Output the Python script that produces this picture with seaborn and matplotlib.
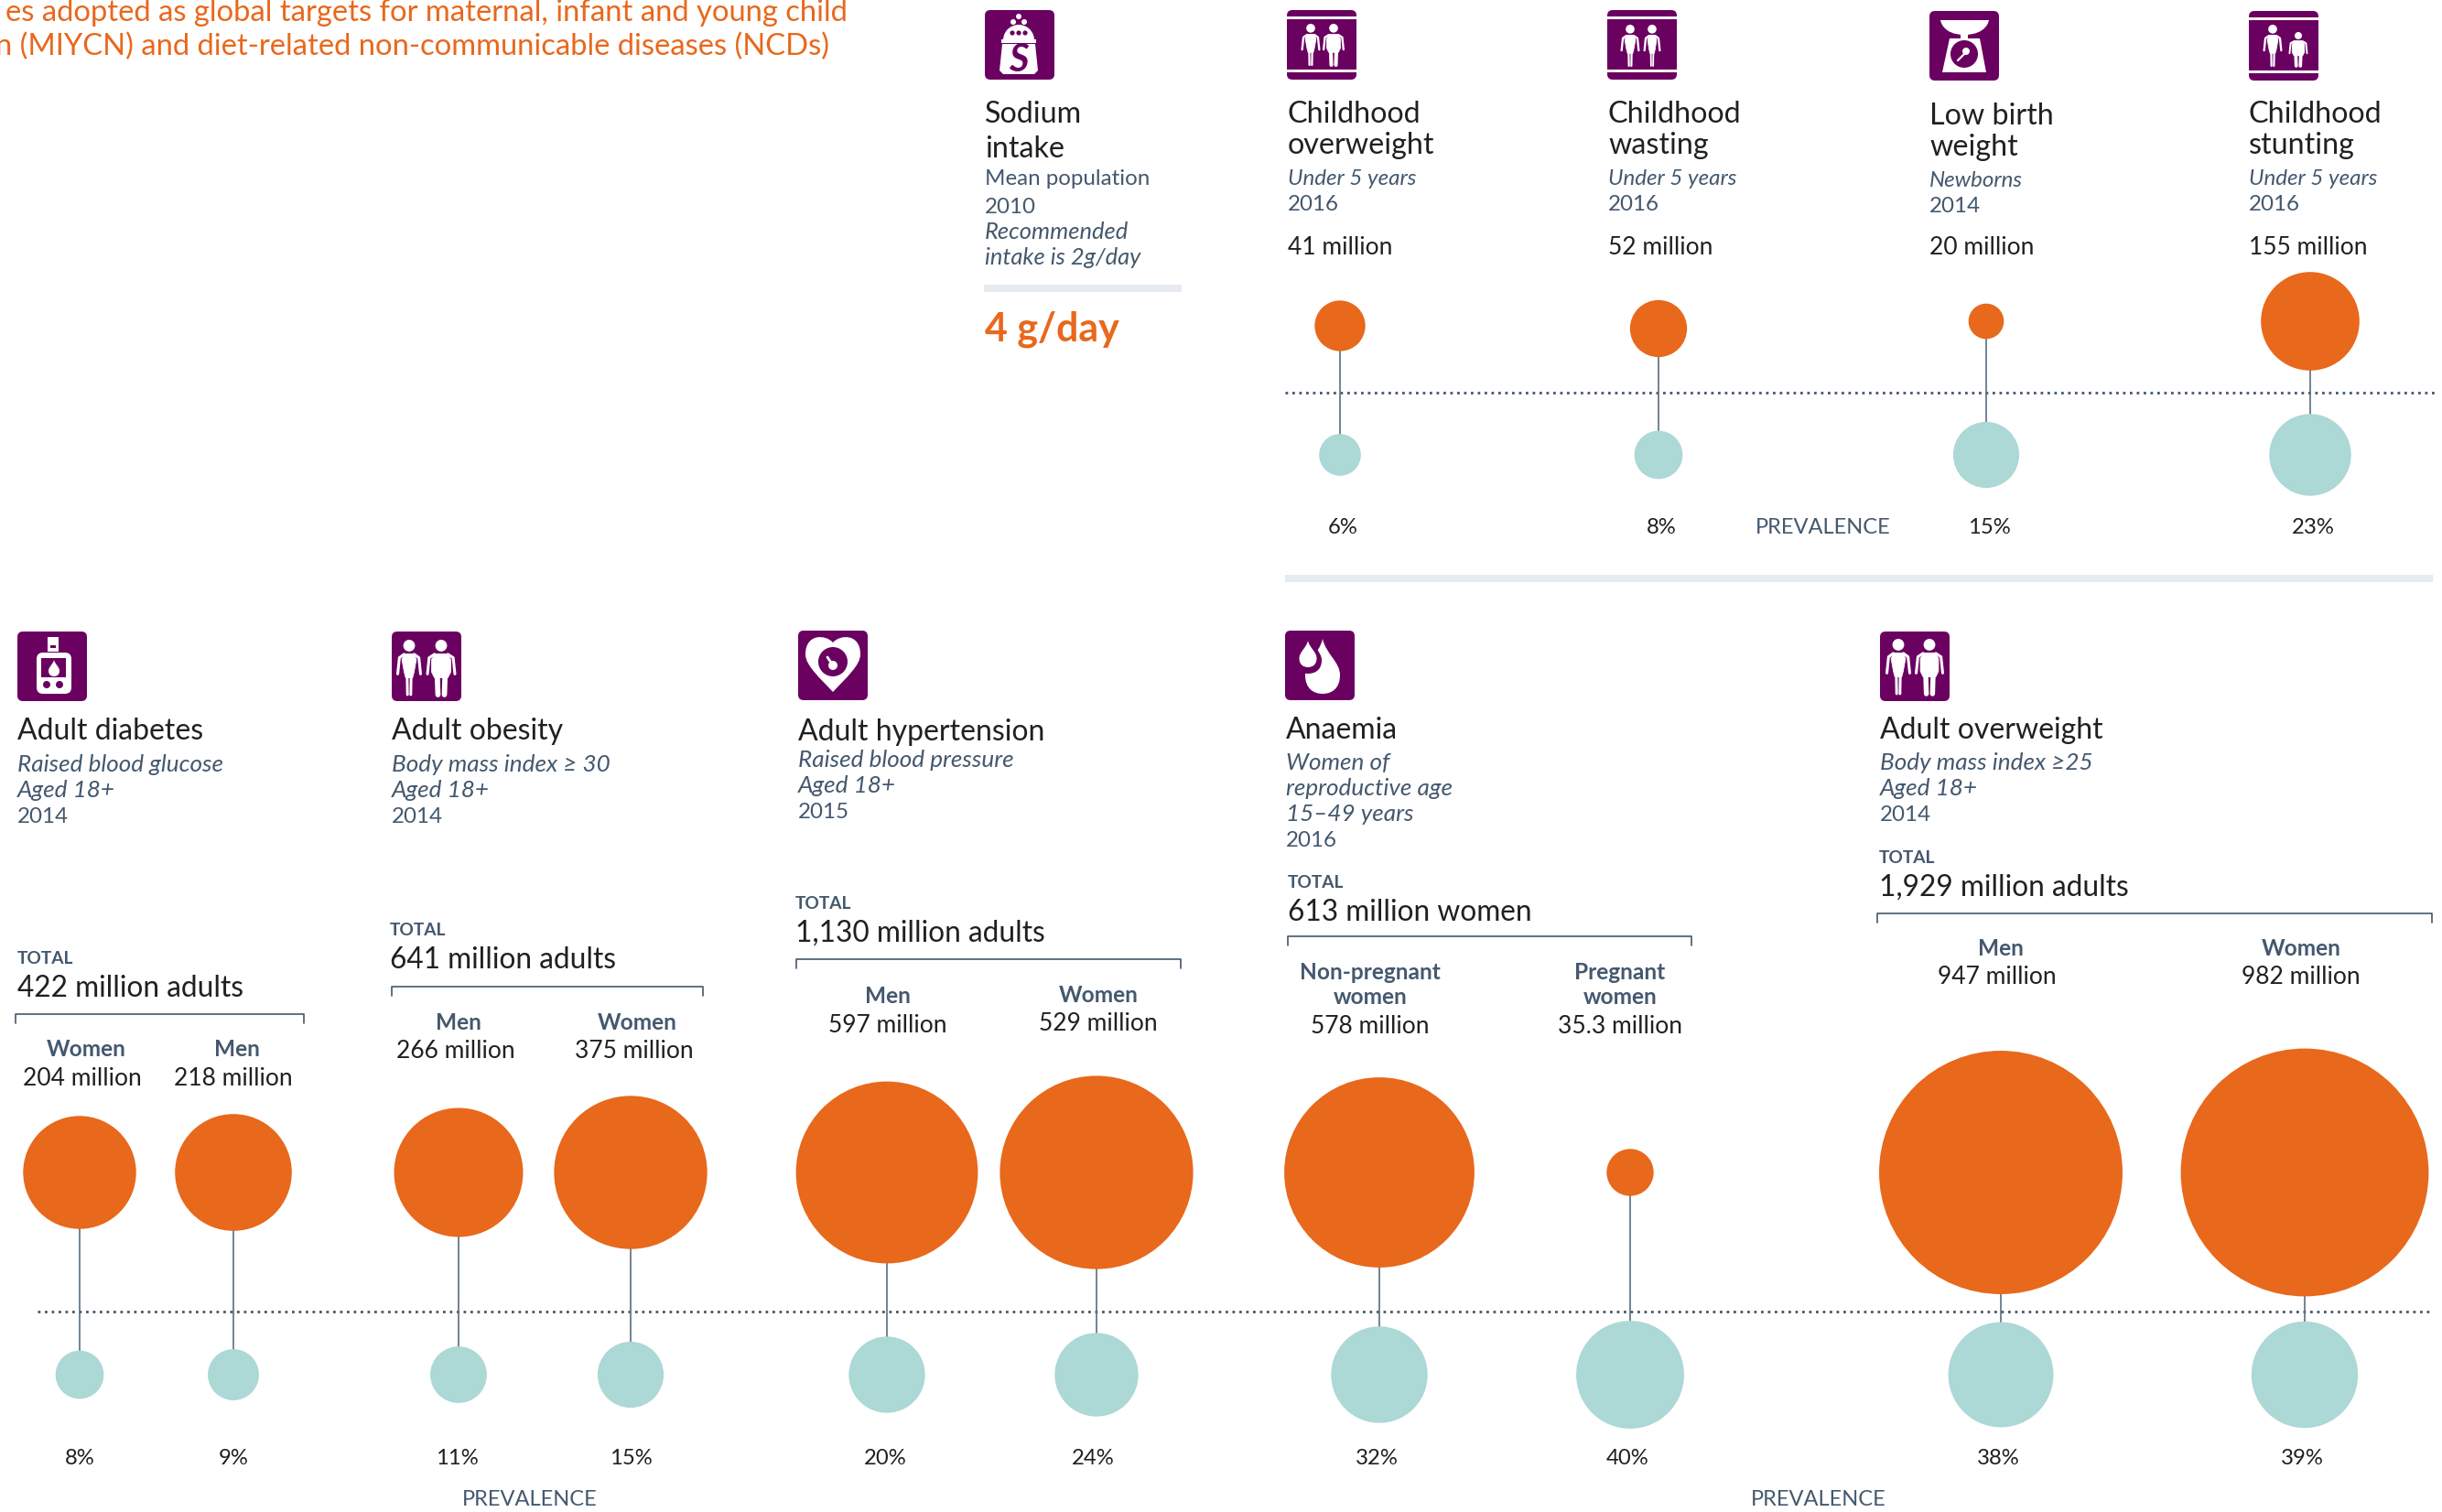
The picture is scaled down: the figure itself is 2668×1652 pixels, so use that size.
import matplotlib
matplotlib.use("Agg")
import matplotlib.pyplot as plt
import numpy as np
import pandas as pd
import seaborn as sns
from matplotlib.patches import FancyBboxPatch, Circle, Polygon, PathPatch, Wedge, Rectangle
from matplotlib.path import Path

sns.set_theme(style="white")
plt.rcParams["font.family"] = ["Lato", "DejaVu Sans"]

ORANGE = "#E8681C"
TEAL = "#ACD8D6"
PURPLE = "#6A0060"
DARK = "#231F20"
SLATE = "#44586E"
PALE = "#E6EAF1"

# top row
top_names = [["Childhood", "overweight"], ["Childhood", "wasting"], ["Low birth", "weight"], ["Childhood", "stunting"]]
top_groups = ["Under 5 years", "Under 5 years", "Newborns", "Under 5 years"]
top_years = ["2016", "2016", "2014", "2016"]
top_millions = [41, 52, 20, 155]
top_prevalence = [6, 8, 15, 23]

# bottom row, one entry per circle pair
bottom_millions = [204, 218, 266, 375, 529, 597, 578, 35.3, 947, 982]
bottom_prevalence = [8, 9, 11, 15, 20, 24, 32, 40, 38, 39]
bottom_groups = [["Women"], ["Men"], ["Men"], ["Women"], ["Men"], ["Women"],
                 ["Non-pregnant", "women"], ["Pregnant", "women"], ["Men"], ["Women"]]
bottom_million_labels = ["204 million", "218 million", "266 million", "375 million", "597 million",
                         "529 million", "578 million", "35.3 million", "947 million", "982 million"]

bottom_titles = ["Adult diabetes", "Adult obesity", "Adult hypertension", "Anaemia", "Adult overweight"]
bottom_notes = [["Raised blood glucose", "Aged 18+"], ["Body mass index ≥ 30", "Aged 18+"], ["Raised blood pressure", "Aged 18+"],
                ["Women of", "reproductive age", "15–49 years"], ["Body mass index ≥25", "Aged 18+"]]
bottom_years = ["2014", "2014", "2015", "2016", "2014"]
bottom_totals = ["422 million adults", "641 million adults", "1,130 million adults", "613 million women", "1,929 million adults"]

# layout, in pixels of the final picture
top_x = [1464, 1812, 2170, 2524]
top_cy = [356, 359, 351, 351]
top_text_x = [1407, 1757, 2108, 2457]
bottom_x = [87, 255, 501, 689, 969, 1198, 1507, 1781, 2186, 2518]
bottom_cy = 1281
bottom_prev_cy = 1502
top_prev_cy = 497

panel_x = [19, 428, 872, 1405, 2054]
title_y = [808, 808, 809, 807, 807]
note_y = [[843, 871, 899], [843, 871, 899], [838, 866, 894], [841, 869, 897, 925], [841, 869, 897]]
total_x = [19, 426, 869, 1407, 2053]
total_y = [1053, 1022, 993, 970, 943]
bracket = [(17, 332, 1108), (428, 768, 1078), (870, 1290, 1048), (1407, 1848, 1023), (2051, 2657, 998)]

group_x = [94, 259, 501, 696, 970, 1200, 1497, 1770, 2186, 2514]
value_x = [90, 255, 498, 693, 970, 1200, 1497, 1770, 2182, 2514]
group_y = [1154, 1154, 1125, 1125, 1096, 1095, 1070, 1070, 1044, 1044]
value_y = [1186, 1186, 1156, 1156, 1128, 1126, 1129, 1129, 1075, 1075]
prev_x = [87, 255, 499, 689, 967, 1194, 1504, 1778, 2183, 2515]


def T(x, y, s, size=8.7, color=DARK, weight="normal", style="normal", ha="left"):
    ax.text(x, y, s, fontsize=size, color=color, fontweight=weight, fontstyle=style, ha=ha, va="baseline")


def person(cx, top, h, reach, fat=False):
    # white figure inside an icon, sizes in pixels, reach is the width over the arms
    r = 0.105 * h
    ax.add_patch(Circle((cx, top + r), r, color="white", lw=0, zorder=5))
    st = top + 2.4 * r
    crotch = top + 0.58 * h
    bot = top + h
    lw = 0.05 * h
    sw = reach / 2 - 2.0 * lw
    hw = sw * (1.0 if fat else 0.68)
    ax.add_patch(Polygon([(cx - sw * 0.6, st), (cx + sw * 0.6, st), (cx + sw, st + 0.1 * h), (cx + hw, crotch),
                          (cx + hw * 0.7, crotch + 0.1 * h), (cx - hw * 0.7, crotch + 0.1 * h), (cx - hw, crotch), (cx - sw, st + 0.1 * h)],
                         fc="white", ec="white", lw=0.3, joinstyle="round", zorder=5))
    for side in (-1, 1):
        ax.plot([cx + side * sw * 0.7, cx + side * (reach / 2 - lw * 1.1), cx + side * (reach / 2 - lw * 0.5)],
                [st + 0.5, st + 0.07 * h, st + 0.36 * h],
                color="white", lw=lw * 0.36, solid_capstyle="round", solid_joinstyle="round", zorder=5)
        ax.plot([cx + side * hw * 0.42, cx + side * hw * 0.34], [crotch, bot - 1],
                color="white", lw=hw * 0.55 * 0.36, solid_capstyle="round", zorder=5)


def drop(cx, top, w, h, color="white", z=5):
    bot = top + h
    verts = [(cx, top), (cx + w * 0.1, top + h * 0.28), (cx + w / 2, top + h * 0.42), (cx + w / 2, top + h * 0.66),
             (cx + w / 2, top + h * 0.9), (cx + w * 0.27, bot), (cx, bot),
             (cx - w * 0.27, bot), (cx - w / 2, top + h * 0.9), (cx - w / 2, top + h * 0.66),
             (cx - w / 2, top + h * 0.42), (cx - w * 0.1, top + h * 0.28), (cx, top)]
    codes = [Path.MOVETO] + [Path.CURVE4] * 12
    ax.add_patch(PathPatch(Path(verts, codes), fc=color, ec="none", zorder=z))


def icon_base(x, y, w=76, h=76, bands=False):
    ax.add_patch(FancyBboxPatch((x + 5, y + 5), w - 10, h - 10, boxstyle="round,pad=5,rounding_size=6",
                                fc=PURPLE, ec="none", zorder=4))
    if bands:
        ax.add_patch(Rectangle((x, y + 7), w, 2.5, fc="white", ec="none", zorder=5))
        ax.add_patch(Rectangle((x, y + h - 11), w, 2.5, fc="white", ec="none", zorder=5))


def icon_salt(x, y):
    icon_base(x, y)
    for dx, dy, r in [(0, 7, 3), (-6, 13, 3), (6, 13, 3)]:
        ax.add_patch(Circle((x + 37 + dx, y + dy), r, color="white", lw=0, zorder=5))
    ax.add_patch(Wedge((x + 37, y + 33), 17, 180, 360, color="white", lw=0, zorder=5))
    for dx in (-7, 0, 7):
        ax.add_patch(Circle((x + 37 + dx, y + 25), 2.6, color=PURPLE, lw=0, zorder=6))
    ax.add_patch(Rectangle((x + 18, y + 32), 38, 3.5, fc="white", ec="none", zorder=5))
    ax.add_patch(Polygon([(x + 19, y + 37), (x + 55, y + 37), (x + 58, y + 66), (x + 54, y + 70), (x + 20, y + 70), (x + 16, y + 66)],
                         fc="white", ec="none", zorder=5))
    ax.text(x + 37, y + 67, "S", fontsize=15, fontweight="bold", fontstyle="italic", color=PURPLE, ha="center", va="baseline", zorder=6)


def icon_scale(x, y):
    icon_base(x, y)
    bowl = [(x + 12, y + 10), (x + 65, y + 10), (x + 65, y + 10), (x + 63, y + 26), (x + 38, y + 26),
            (x + 14, y + 26), (x + 12, y + 10), (x + 12, y + 10)]
    ax.add_patch(PathPatch(Path(bowl, [Path.MOVETO, Path.LINETO] + [Path.CURVE4] * 6), fc="white", ec="none", zorder=5))
    ax.add_patch(Rectangle((x + 34, y + 24), 8, 8, fc="white", ec="none", zorder=5))
    ax.add_patch(Polygon([(x + 22, y + 30), (x + 55, y + 30), (x + 62, y + 67), (x + 14, y + 67)], fc="white", ec="none", zorder=5))
    ax.add_patch(Circle((x + 38, y + 47), 15, color=PURPLE, lw=0, zorder=6))
    ax.add_patch(Circle((x + 40, y + 44), 4, color="white", lw=0, zorder=7))
    ax.plot([x + 40, x + 31], [y + 45, y + 54], color="white", lw=0.8, zorder=7)


def icon_meter(x, y):
    icon_base(x, y)
    ax.add_patch(Rectangle((x + 33, y + 6), 12, 16, fc="white", ec="none", zorder=5))
    ax.add_patch(Rectangle((x + 36, y + 15), 6, 2.5, fc=PURPLE, ec="none", zorder=6))
    ax.add_patch(FancyBboxPatch((x + 26, y + 28), 28, 35, boxstyle="round,pad=5,rounding_size=7", fc="white", ec="none", zorder=5))
    ax.add_patch(Rectangle((x + 26, y + 29), 27, 21, fc=PURPLE, ec="none", zorder=6))
    drop(x + 40, y + 31, 12, 18, z=7)
    ax.add_patch(Circle((x + 32, y + 58), 4, color=PURPLE, lw=0, zorder=6))
    ax.add_patch(Circle((x + 46, y + 58), 4, color=PURPLE, lw=0, zorder=6))


def icon_heart(x, y):
    icon_base(x, y)
    c = x + 38
    verts = [(c, y + 13), (c + 8, y + 4), (c + 30, y + 3), (c + 30, y + 26), (c + 30, y + 38), (c + 14, y + 52), (c, y + 67),
             (c - 14, y + 52), (c - 30, y + 38), (c - 30, y + 26), (c - 30, y + 3), (c - 8, y + 4), (c, y + 13)]
    ax.add_patch(PathPatch(Path(verts, [Path.MOVETO] + [Path.CURVE4] * 12), fc="white", ec="none", zorder=5))
    ax.add_patch(Circle((c, y + 34), 16, color=PURPLE, lw=0, zorder=6))
    ax.add_patch(Circle((c, y + 38), 5, color="white", lw=0, zorder=7))
    ax.plot([c - 6, c], [y + 29, y + 38], color="white", lw=1, zorder=7)


def icon_drops(x, y):
    icon_base(x, y)
    drop(x + 41, y + 9, 38, 60)
    drop(x + 25, y + 4, 30, 43, color=PURPLE, z=6)
    drop(x + 25, y + 11, 19, 29, z=7)


fig = plt.figure(figsize=(13.34, 8.26), dpi=200)
ax = fig.add_axes([0, 0, 1, 1])

# circles, area follows the value
orange_k = 9.68
teal_k = 45.0
circles = pd.concat([
    pd.DataFrame({"x": top_x, "y": top_cy, "v": top_millions}),
    pd.DataFrame({"x": bottom_x, "y": bottom_cy, "v": bottom_millions}),
])
prevs = pd.concat([
    pd.DataFrame({"x": top_x, "y": top_prev_cy, "v": top_prevalence}),
    pd.DataFrame({"x": bottom_x, "y": bottom_prev_cy, "v": bottom_prevalence}),
])
sns.scatterplot(data=circles, x="x", y="y", size="v", sizes=(0, 1000 * orange_k), size_norm=(0, 1000),
                color=ORANGE, linewidth=0, alpha=1, legend=False, ax=ax, zorder=3)
sns.scatterplot(data=prevs, x="x", y="y", size="v", sizes=(0, 100 * teal_k), size_norm=(0, 100),
                color=TEAL, linewidth=0, alpha=1, legend=False, ax=ax, zorder=3)
ax.vlines(circles["x"], circles["y"], prevs["y"], color="#5A6E82", lw=0.6, zorder=2)

dots = (0, (1, 1.7))
ax.plot([1404, 2660], [429, 429], color=SLATE, lw=1.0, ls=dots, zorder=1)
ax.plot([41, 2655], [1433, 1433], color=SLATE, lw=1.0, ls=dots, zorder=1)

ax.set_xlim(0, 2668)
ax.set_ylim(1652, 0)
ax.axis("off")

# orange heading, cut at the left edge
T(926, 23, "es adopted as global targets for maternal, infant and young child", size=11.8, color=ORANGE, ha="right")
T(906, 60, "n (MIYCN) and diet-related non-communicable diseases (NCDs)", size=11.8, color=ORANGE, ha="right")

# sodium column
icon_salt(1076, 11)
T(1076, 134, "Sodium", size=11.6)
T(1076, 172, "intake", size=11.6)
T(1076, 202, "Mean population", color=SLATE)
T(1076, 233, "2010", color=SLATE)
T(1076, 261, "Recommended", color=SLATE, style="italic", size=9.2)
T(1076, 289, "intake is 2g/day", color=SLATE, style="italic", size=9.2)
ax.add_patch(Rectangle((1075, 311), 216, 8, fc=PALE, ec="none"))
T(1076, 373, "4 g/day", size=15.5, color=ORANGE, weight="bold")

# top columns
for i, x in enumerate(top_text_x):
    dy = 2 if i == 2 else 0
    T(x, 134.5 + dy, top_names[i][0], size=11.6)
    T(x, 168 + dy, top_names[i][1], size=11.6)
    T(x, 202 + dy, top_groups[i], color=SLATE, style="italic")
    T(x, 230 + dy, top_years[i], color=SLATE)
    T(x, 278, f"{top_millions[i]} million", size=9.5)
    T(top_x[i] + 3, 583, f"{top_prevalence[i]}%", size=8.6, ha="center")
T(1918, 583, "PREVALENCE", color=SLATE, size=8.5)
ax.add_patch(Rectangle((1404, 628), 1254, 8, fc=PALE, ec="none"))

icon_base(1406, 11, bands=True)
person(1432, 26, 46, 21)
person(1457, 26, 46, 24, fat=True)
icon_base(1756, 11, bands=True)
person(1781, 27, 46, 21)
person(1805, 27, 46, 19)
icon_scale(2108, 12)
icon_base(2457, 12, bands=True)
person(2483, 27, 46, 21)
person(2511, 35, 38, 21, fat=True)

# bottom panels
for i in range(5):
    T(panel_x[i], title_y[i], bottom_titles[i], size=11.5)
    lines = bottom_notes[i]
    for j, s in enumerate(lines):
        T(panel_x[i], note_y[i][j], s, color=SLATE, style="italic", size=9.4)
    T(panel_x[i], note_y[i][len(lines)], bottom_years[i], color=SLATE)
    T(total_x[i], total_y[i], "TOTAL", size=6.9, color=SLATE, weight="bold")
    T(total_x[i], total_y[i] + 36, bottom_totals[i], size=11.4)
    x0, x1, yb = bracket[i]
    ax.plot([x0, x0, x1, x1], [yb + 10, yb, yb, yb + 10], color=SLATE, lw=0.6)

for i in range(10):
    for j, s in enumerate(bottom_groups[i]):
        T(group_x[i], group_y[i] + j * 27, s, size=8.8, color=SLATE, weight="bold", ha="center")
    T(value_x[i], value_y[i], bottom_million_labels[i], size=9.5, ha="center")
    T(prev_x[i], 1600, f"{bottom_prevalence[i]}%", size=8.6, ha="center")

T(579, 1645, "PREVALENCE", color=SLATE, size=8.5, ha="center")
T(1987, 1645, "PREVALENCE", color=SLATE, size=8.5, ha="center")

icon_meter(19, 690)
icon_base(428, 690)
person(447, 699, 61, 28)
person(482, 699, 61, 33, fat=True)
icon_heart(872, 689)
icon_drops(1404, 689)
icon_base(2054, 690)
person(2074, 698, 61, 28)
person(2108, 698, 61, 32, fat=True)

fig.savefig("out.png", dpi=200)
plt.close(fig)
